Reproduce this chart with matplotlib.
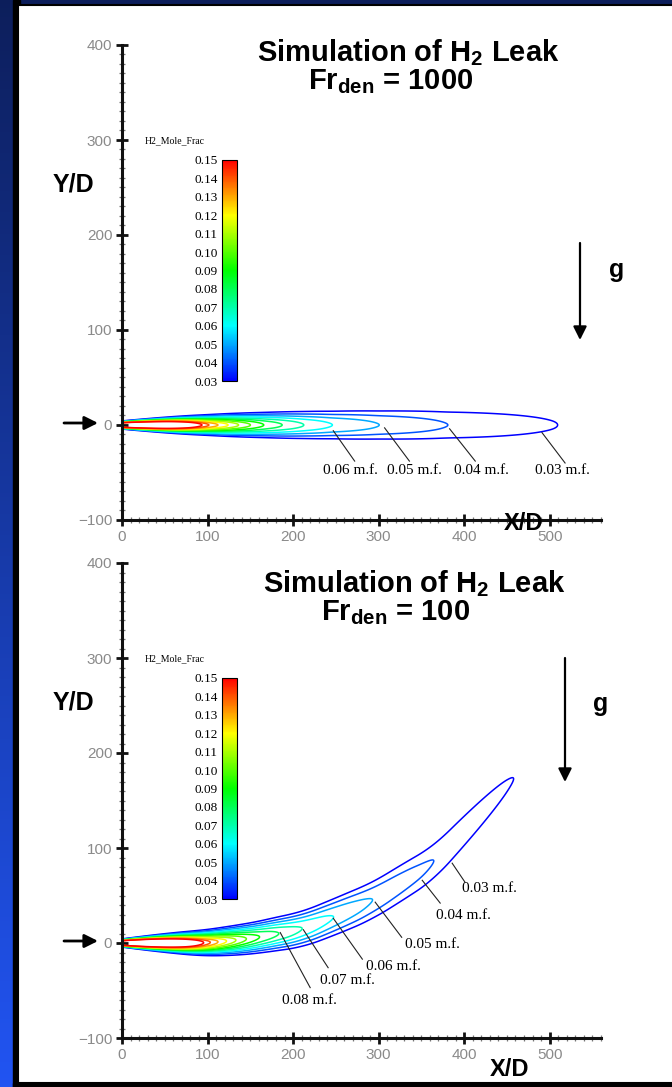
import numpy as np
import matplotlib.pyplot as plt
from matplotlib.colors import LinearSegmentedColormap, Normalize
from matplotlib.cm import ScalarMappable
from matplotlib.patches import Rectangle
from matplotlib.ticker import MultipleLocator

W, H = 672, 1087

# H2 mole-fraction contour levels
levels = [0.03, 0.04, 0.05, 0.06, 0.07, 0.08, 0.09, 0.10, 0.11, 0.12, 0.13, 0.14, 0.15]

# downstream end (X/D, Y/D) of each contour, Fr_den = 1000
tip_x_1000 = [510, 380, 300, 245, 212, 187, 165, 150, 136, 124, 112, 101, 93]
tip_y_1000 = [0, 0, 0, 0, 0, 0, 0, 0, 0, 0, 0, 0, 0]
# downstream end of each contour, Fr_den = 100
tip_x_100 = [457, 364, 292, 247, 210, 183, 160, 145, 133, 122, 112, 103, 95]
tip_y_100 = [172, 84, 44, 27, 14, 10, 6, 4, 3, 2, 1, 0.5, 0]

# plume half-width: value at the nozzle and growth per X/D
width0 = 2.0
spread_1000 = 0.042
spread_100 = 0.058

# contour callouts: level text, leader start, leader end, text centre
callouts_1000 = [
    ("0.06 m.f.", (247, -6), (272, -38), (267, -48)),
    ("0.05 m.f.", (307, -3), (336, -38), (342, -48)),
    ("0.04 m.f.", (383, -4), (413, -38), (420, -48)),
    ("0.03 m.f.", (491, -8), (518, -40), (515, -48)),
]
callouts_100 = [
    ("0.03 m.f.", (386, 84), (401, 64), (429, 57)),
    ("0.04 m.f.", (351, 66), (372, 42), (399, 29)),
    ("0.05 m.f.", (296, 43), (327, 6), (363, -2)),
    ("0.06 m.f.", (247, 26), (281, -17), (317, -25)),
    ("0.07 m.f.", (212, 14), (241, -26), (264, -40)),
    ("0.08 m.f.", (185, 11), (220, -47), (219, -60)),
]

cmap = LinearSegmentedColormap.from_list(
    "tec_rainbow", ["#0000ff", "#00ffff", "#00ff00", "#ffff00", "#ff0000"])
norm = Normalize(vmin=0.03, vmax=0.15)

SANS = "Liberation Sans"
SERIF = "Liberation Serif"
plt.rcParams["mathtext.fontset"] = "custom"
plt.rcParams["mathtext.rm"] = SANS
plt.rcParams["mathtext.bf"] = SANS + ":bold"


def px_rect(left, top, width, height):
    return [left / W, 1 - (top + height) / H, width / W, height / H]


def px_pt(x, y):
    return (x / W, 1 - y / H)


def smooth(v, n):
    padded = np.pad(v, n // 2, mode="reflect", reflect_type="odd")
    return np.convolve(padded, np.ones(n) / n, mode="valid")


def plume_field(x1, y1, tip_x, tip_y, spread):
    order = np.argsort(tip_x)
    tx = np.asarray(tip_x, float)[order]
    ty = np.asarray(tip_y, float)[order]
    tc = np.asarray(levels, float)[order]
    slope = (ty[-1] - ty[-2]) / (tx[-1] - tx[-2])
    xp = np.concatenate([[0.0], tx, [600.0]])
    cp = np.concatenate([[0.30], tc, [0.02]])
    yp = np.concatenate([[0.0], ty, [ty[-1] + slope * (600.0 - tx[-1])]])
    c_axis = smooth(np.interp(x1, xp, cp), 31)
    y_axis = smooth(np.interp(x1, xp, yp), 81)
    s = width0 + spread * x1
    return c_axis * np.exp(-(y1[:, None] - y_axis) ** 2 / (2 * s ** 2))


fig = plt.figure(figsize=(W / 100, H / 100), dpi=100)

# slide background: blue gradient strip, black frame, white page
bg = fig.add_axes([0, 0, 1, 1])
grad = np.linspace(0, 1, 256)[:, None]
top_c = np.array([0.05, 0.12, 0.36])
bot_c = np.array([0.13, 0.33, 0.95])
bg.imshow(top_c + grad[..., None] * (bot_c - top_c), extent=[0, 1, 0, 1],
          aspect="auto", origin="upper")
bg.add_patch(Rectangle(px_pt(13, H), 7 / W, 1, color="black"))
bg.add_patch(Rectangle(px_pt(13, H), 1, 4 / H, color="black"))
bg.add_patch(Rectangle(px_pt(18, 1083), 1, 1078 / H, facecolor="white",
                       edgecolor="black", linewidth=1.5))
bg.set_xlim(0, 1)
bg.set_ylim(0, 1)
bg.axis("off")

x1 = np.linspace(0, 560, 1121)
y1 = np.linspace(-60, 260, 1281)

# per panel: axes top (px), data, callouts, Froude number, title anchors (px)
panels = [
    (45, tip_x_1000, tip_y_1000, spread_1000, callouts_1000, "1000",
     [(408, 61), (391, 89)], (524, 523), (617, 270), (580, 243, 340)),
    (563, tip_x_100, tip_y_100, spread_100, callouts_100, "100",
     [(414, 592), (396, 620)], (510, 1070), (601, 704), (565, 658, 782)),
]

for (top, tip_x, tip_y, spread, callouts, fr,
     title_xy, xlab_xy, g_xy, g_arrow) in panels:
    ax = fig.add_axes(px_rect(122, top, 479, 475))
    ax.set_facecolor("none")
    field = plume_field(x1, y1, tip_x, tip_y, spread)
    ax.contour(x1, y1, field, levels=levels, cmap=cmap, norm=norm, linewidths=1.1)
    ax.set_xlim(0, 560)
    ax.set_ylim(-100, 400)
    for side in ("top", "right"):
        ax.spines[side].set_visible(False)
    for side in ("left", "bottom"):
        ax.spines[side].set_linewidth(2.2)
        ax.spines[side].set_color("#111111")
    ax.xaxis.set_major_locator(MultipleLocator(100))
    ax.yaxis.set_major_locator(MultipleLocator(100))
    ax.xaxis.set_minor_locator(MultipleLocator(10))
    ax.yaxis.set_minor_locator(MultipleLocator(10))
    ax.tick_params(which="major", direction="inout", length=8, width=2,
                   color="#111111", labelsize=11, labelcolor="#8a8a8a", pad=3)
    ax.tick_params(which="minor", direction="inout", length=4, width=0.9,
                   color="#777777")
    for lab in ax.get_xticklabels() + ax.get_yticklabels():
        lab.set_family(SANS)

    for text, start, end, pos in callouts:
        ax.plot([start[0], end[0]], [start[1], end[1]], color="#222222", lw=0.8)
        ax.text(pos[0], pos[1], text, ha="center", va="center",
                family=SERIF, fontsize=11)

    # colour legend
    cax = fig.add_axes(px_rect(222, top + 115, 15, 221))
    cb = fig.colorbar(ScalarMappable(norm=norm, cmap=cmap), cax=cax,
                      ticks=levels, ticklocation="left")
    cb.outline.set_linewidth(0.8)
    cb.set_ticklabels(["%.2f" % v for v in levels])
    cax.tick_params(length=0, pad=3, labelsize=9.5)
    for lab in cax.get_yticklabels():
        lab.set_family(SERIF)
    fig.text(*px_pt(145, top + 96), "H2_Mole_Frac", family=SERIF, fontsize=7,
             ha="left", va="center")

    # titles and axis names
    fig.text(*px_pt(*title_xy[0]), r"Simulation of H$_\mathbf{2}$ Leak",
             family=SANS, weight="bold", fontsize=21, ha="center", va="baseline")
    fig.text(*px_pt(*title_xy[1]), r"Fr$_\mathbf{den}$ = " + fr,
             family=SANS, weight="bold", fontsize=21, ha="center", va="baseline")
    fig.text(*px_pt(73, top + 140), "Y/D", family=SANS, weight="bold",
             fontsize=18, ha="center", va="center")
    fig.text(*px_pt(*xlab_xy), "X/D", family=SANS, weight="bold",
             fontsize=17, ha="center", va="center")
    fig.text(*px_pt(*g_xy), "g", family=SANS, weight="bold",
             fontsize=18, ha="center", va="center")

    # gravity arrow
    gx, g0, g1 = g_arrow
    bg.annotate("", xy=px_pt(gx, g1), xytext=px_pt(gx, g0),
                xycoords="figure fraction", textcoords="figure fraction",
                arrowprops=dict(arrowstyle="-|>", color="black", lw=1.6,
                                mutation_scale=20, shrinkA=0, shrinkB=0))
    # leak source arrow at Y/D = 0
    ay = top + 378
    bg.annotate("", xy=px_pt(98, ay), xytext=px_pt(64, ay),
                xycoords="figure fraction", textcoords="figure fraction",
                arrowprops=dict(arrowstyle="-|>", color="black", lw=2,
                                mutation_scale=20, shrinkA=0, shrinkB=0))

fig.savefig("out.png", dpi=100)
